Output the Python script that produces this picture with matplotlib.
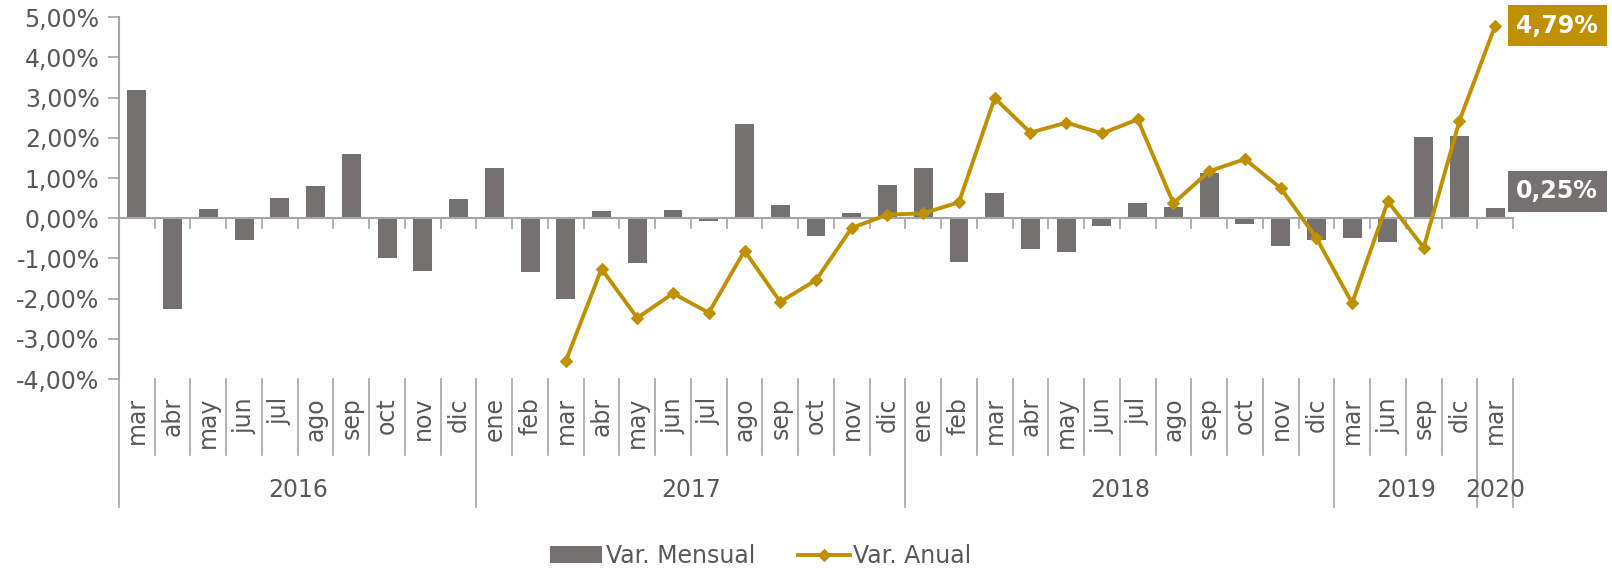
import numpy as np
import matplotlib
matplotlib.use('Agg')
import matplotlib.pyplot as plt
from matplotlib.ticker import FuncFormatter, FixedLocator
from matplotlib.transforms import blended_transform_factory
from matplotlib.lines import Line2D

months = ['mar', 'abr', 'may', 'jun', 'jul', 'ago', 'sep', 'oct', 'nov', 'dic',
          'ene', 'feb', 'mar', 'abr', 'may', 'jun', 'jul', 'ago', 'sep', 'oct', 'nov', 'dic',
          'ene', 'feb', 'mar', 'abr', 'may', 'jun', 'jul', 'ago', 'sep', 'oct', 'nov', 'dic',
          'mar', 'jun', 'sep', 'dic',
          'mar']
years = ['2016', '2017', '2018', '2019', '2020']
year_counts = [10, 12, 12, 4, 1]

# Var. Mensual (%)
var_mensual = [3.20, -2.26, 0.24, -0.53, 0.50, 0.80, 1.60, -0.98, -1.31, 0.47,
               1.24, -1.35, -2.00, 0.17, -1.11, 0.21, -0.07, 2.35, 0.32, -0.44, 0.12, 0.82,
               1.26, -1.09, 0.63, -0.76, -0.85, -0.19, 0.37, 0.27, 1.13, -0.15, -0.69, -0.54,
               -0.48, -0.60, 2.01, 2.05,
               0.25]
# Var. Anual (%) - starts in mar 2017
var_anual = [np.nan] * 12 + [
    -3.55, -1.26, -2.48, -1.87, -2.35, -0.81, -2.08, -1.54, -0.24, 0.09,
    0.12, 0.40, 2.99, 2.13, 2.38, 2.11, 2.46, 0.37, 1.17, 1.47, 0.75, -0.49,
    -2.11, 0.42, -0.73, 2.42,
    4.79]

BAR_C = '#767171'
GOLD = '#BF9000'
AX_C = '#A6A6A6'
TXT_C = '#595959'
W, H = 1612, 568

plt.rcParams['font.family'] = ['DejaVu Sans']

fig = plt.figure(figsize=(W / 100, H / 100), dpi=100)
fig.patch.set_facecolor('white')
ax = fig.add_axes([119 / W, 1 - 379 / H, (1513 - 119) / W, (379 - 17.3) / H])
ax.set_facecolor('none')

x = np.arange(len(months))
bars = ax.bar(x, var_mensual, width=0.53, color=BAR_C, zorder=2, label='Var. Mensual')
line, = ax.plot(x, var_anual, color=GOLD, lw=2.8, marker='D', ms=6.5, mew=0.8, mec=GOLD,
                zorder=3, label='Var. Anual')

ax.set_xlim(-0.5, len(months) - 0.5)
ax.set_ylim(-4, 5)
ax.yaxis.set_major_locator(FixedLocator(np.arange(-4, 6, 1)))
ax.yaxis.set_major_formatter(FuncFormatter(lambda v, p: f'{v:.2f}%'.replace('.', ',')))
ax.tick_params(axis='y', length=8, width=1.2, color=AX_C, labelsize=17, labelcolor=TXT_C, pad=6)

for s in ['top', 'right']:
    ax.spines[s].set_visible(False)
ax.spines['left'].set_color(AX_C)
ax.spines['left'].set_linewidth(1.5)
ax.spines['bottom'].set_position(('data', 0))
ax.spines['bottom'].set_color(AX_C)
ax.spines['bottom'].set_linewidth(1.5)
ax.xaxis.set_major_locator(FixedLocator(np.arange(0, len(months) + 1) - 0.5))
ax.tick_params(axis='x', direction='out', length=8, width=1.2, color=AX_C, labelbottom=False)

# multi-level category axis below the plot
tr = blended_transform_factory(ax.transData, fig.transFigure)
fy = lambda py: 1 - py / H
bounds = np.arange(len(months) + 1) - 0.5
year_bounds = np.concatenate([[0], np.cumsum(year_counts)]) - 0.5
for b in bounds:
    bottom = 507 if b in year_bounds else 455
    ax.add_line(Line2D([b, b], [fy(379), fy(bottom)], transform=tr, color=AX_C,
                       lw=1.2, clip_on=False))
for i, m in enumerate(months):
    ax.text(i, fy(397), m, transform=tr, rotation=90, ha='center', va='top',
            fontsize=17, color=TXT_C)
for k, yr in enumerate(years):
    cx = (year_bounds[k] + year_bounds[k + 1]) / 2
    ax.text(cx, fy(490), yr, transform=tr, ha='center', va='center',
            fontsize=17, color=TXT_C)

# data labels for last point
last = len(months) - 1
ax.annotate(f'{var_anual[-1]:.2f}%'.replace('.', ','), xy=(last, var_anual[-1]),
            xytext=(62, 0), textcoords='offset pixels', ha='center', va='center',
            fontsize=17, fontweight='bold', color='white', annotation_clip=False,
            bbox=dict(boxstyle='square,pad=0.36', fc=GOLD, ec='none'))
ax.annotate(f'{var_mensual[-1]:.2f}%'.replace('.', ','), xy=(last, var_mensual[-1]),
            xytext=(62, 17), textcoords='offset pixels', ha='center', va='center',
            fontsize=17, fontweight='bold', color='white', annotation_clip=False,
            bbox=dict(boxstyle='square,pad=0.36', fc=BAR_C, ec='none'))

fig.legend([bars, line], ['Var. Mensual', 'Var. Anual'], loc='center',
           bbox_to_anchor=(761 / W, fy(556)), ncol=2,
           frameon=False, fontsize=17, labelcolor=TXT_C, handlelength=2.2,
           handletextpad=0.15, columnspacing=1.8, handleheight=0.75)

fig.savefig('out.png', dpi=100)
